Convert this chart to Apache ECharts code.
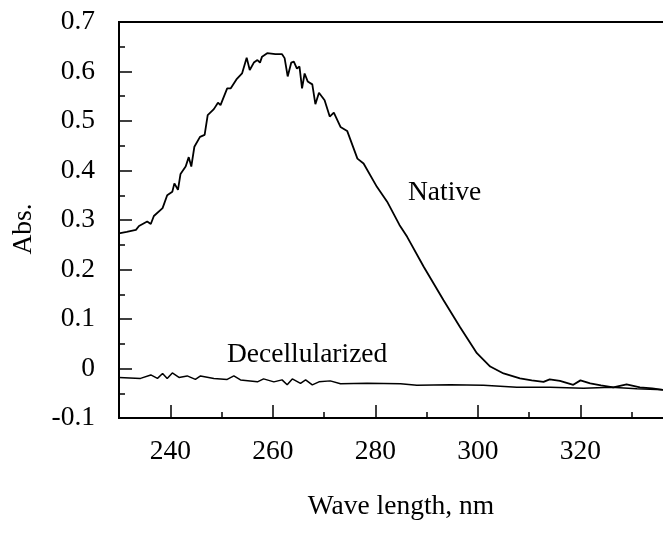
<!DOCTYPE html>
<html><head><meta charset="utf-8">
<script src="https://cdn.jsdelivr.net/npm/echarts@6/dist/echarts.min.js"></script>
<style>html,body{margin:0;padding:0;background:#fff}#c{width:663px;height:536px}</style>
</head><body><div id="c"></div>
<script>
// Native spectrum (wavelength nm, absorbance)
const nativeWl = [230.0,231.5,233.3,233.9,235.5,236.2,236.8,238.5,239.4,240.4,240.8,241.5,242.0,243.0,243.6,244.1,244.7,245.8,246.7,247.3,248.5,249.3,249.8,251.1,251.8,252.9,254.0,254.9,255.5,256.3,257.0,257.5,257.9,258.9,260.5,261.8,262.3,262.9,263.6,264.1,264.7,265.2,265.7,266.2,266.8,267.7,268.3,269.0,270.1,271.1,271.9,273.2,274.5,276.5,277.7,280.3,282.3,284.7,286.2,289.4,293.3,296.5,299.8,302.4,305.0,308.2,310.5,312.8,314.0,316.0,318.6,320.0,321.9,324.0,326.4,329.0,331.6,334.0,336.1];
const nativeAbs = [0.273,0.276,0.280,0.288,0.297,0.292,0.308,0.324,0.350,0.357,0.374,0.361,0.393,0.408,0.427,0.408,0.448,0.468,0.472,0.512,0.524,0.537,0.532,0.566,0.566,0.584,0.596,0.628,0.603,0.618,0.623,0.618,0.630,0.637,0.635,0.635,0.627,0.590,0.618,0.620,0.606,0.610,0.566,0.596,0.580,0.574,0.534,0.557,0.542,0.509,0.517,0.488,0.480,0.424,0.414,0.367,0.337,0.290,0.266,0.206,0.138,0.084,0.031,0.004,-0.010,-0.020,-0.024,-0.027,-0.022,-0.025,-0.033,-0.024,-0.030,-0.034,-0.038,-0.032,-0.038,-0.040,-0.043];
// Decellularized spectrum
const decelWl = [230.0,234.2,236.2,237.5,238.5,239.4,240.4,241.7,243.3,244.9,245.9,248.5,251.1,252.4,253.7,257.0,258.2,260.2,261.8,262.8,263.8,265.4,266.4,267.7,269.0,271.2,273.2,278.4,284.9,288.1,294.6,301.1,307.6,314.1,320.6,326.0,331.0,336.1];
const decelAbs = [-0.018,-0.020,-0.013,-0.020,-0.010,-0.020,-0.009,-0.018,-0.015,-0.022,-0.015,-0.020,-0.022,-0.015,-0.023,-0.027,-0.021,-0.027,-0.023,-0.033,-0.021,-0.030,-0.023,-0.033,-0.027,-0.025,-0.031,-0.030,-0.031,-0.034,-0.033,-0.034,-0.038,-0.038,-0.040,-0.038,-0.041,-0.043];
// Axis ticks
const xTickValues = [240,260,280,300,320];
const yTickValues = [-0.1,0,0.1,0.2,0.3,0.4,0.5,0.6,0.7];
const yTickLabels = ['-0.1','0','0.1','0.2','0.3','0.4','0.5','0.6','0.7'];
const seriesNames = ['Native','Decellularized'];
const xTitle = 'Wave length, nm';
const yTitle = 'Abs.';

const FONT = "'Liberation Serif','Times New Roman',serif";
const FS = 27.5;
const GRID_W = 564, GRID_H = 396;
const chart = echarts.init(document.getElementById('c'), null, {renderer:'canvas'});
const zip = (a,b) => a.map((v,i)=>[v,b[i]]);
const tickStyle = {color:'#000', width:1.5};
const gridBase = {left:119, top:22, width:GRID_W, height:GRID_H, outerBoundsMode:'none', containLabel:false};
const hidden = {axisLine:{show:false, onZero:false}, axisLabel:{show:false}, splitLine:{show:false}};
chart.setOption({
  animation:false,
  backgroundColor:'#fff',
  grid:[
    Object.assign({show:true, borderColor:'#000', borderWidth:2, backgroundColor:'transparent'}, gridBase),
    Object.assign({show:false}, gridBase)
  ],
  xAxis:[Object.assign({
    // main bottom axis: line, labels and title
    gridIndex:0, type:'value', min:230, max:340, splitNumber:5, position:'bottom',
    axisLine:{show:true, onZero:false, lineStyle:{color:'#000', width:1.5}},
    axisTick:{show:false},
    axisLabel:{margin:20, color:'#000', fontFamily:FONT, fontSize:FS,
      formatter: v => xTickValues.includes(Math.round(v)) ? String(Math.round(v)) : ''},
    splitLine:{show:false},
    name:xTitle, nameLocation:'middle', nameGap:75,
    nameTextStyle:{color:'#000', fontFamily:FONT, fontSize:FS}
  }), Object.assign({}, hidden, {
    // major ticks, drawn upward from the bottom edge
    gridIndex:0, type:'value', min:230, max:340, splitNumber:5, position:'top', offset:-GRID_H,
    axisTick:{show:true, inside:false, length:13, lineStyle:tickStyle}
  }), Object.assign({}, hidden, {
    // minor ticks every 10 nm
    gridIndex:1, type:'value', min:230, max:340, interval:10, position:'top', offset:-GRID_H,
    axisTick:{show:true, inside:false, length:6, lineStyle:tickStyle}
  })],
  yAxis:[{
    gridIndex:0, type:'value', min:-0.1, max:0.7, interval:0.1, position:'left',
    axisLine:{show:true, onZero:false, lineStyle:{color:'#000', width:1.5}},
    axisTick:{show:false},
    axisLabel:{margin:24, color:'#000', fontFamily:FONT, fontSize:FS,
      formatter: v => { const i = yTickValues.findIndex(t => Math.abs(t - v) < 1e-6); return i >= 0 ? yTickLabels[i] : ''; }},
    splitLine:{show:false},
    name:yTitle, nameLocation:'middle', nameGap:81,
    nameTextStyle:{color:'#000', fontFamily:FONT, fontSize:FS, padding:[0,18,0,0]}
  }, Object.assign({}, hidden, {
    // ticks drawn rightward from the left edge
    gridIndex:0, type:'value', min:-0.1, max:0.7, interval:0.1, position:'right', offset:-GRID_W,
    axisTick:{show:true, inside:false, length:13, lineStyle:tickStyle},
    minorTick:{show:true, splitNumber:2, length:6, lineStyle:tickStyle}
  }), Object.assign({}, hidden, {
    gridIndex:1, type:'value', min:-0.1, max:0.7, interval:0.1, show:false
  })],
  series:[{
    name:seriesNames[0], type:'line', xAxisIndex:0, yAxisIndex:0, data:zip(nativeWl,nativeAbs),
    showSymbol:false, lineStyle:{color:'#000', width:1.8}, clip:true
  },{
    name:seriesNames[1], type:'line', xAxisIndex:0, yAxisIndex:0, data:zip(decelWl,decelAbs),
    showSymbol:false, lineStyle:{color:'#000', width:1.5}, clip:true
  }],
  graphic:[
    {type:'text', left:408, top:179, style:{text:seriesNames[0], font:FS+'px '+FONT, fill:'#000'}},
    {type:'text', left:227, top:341, style:{text:seriesNames[1], font:FS+'px '+FONT, fill:'#000'}}
  ]
});
</script></body></html>
